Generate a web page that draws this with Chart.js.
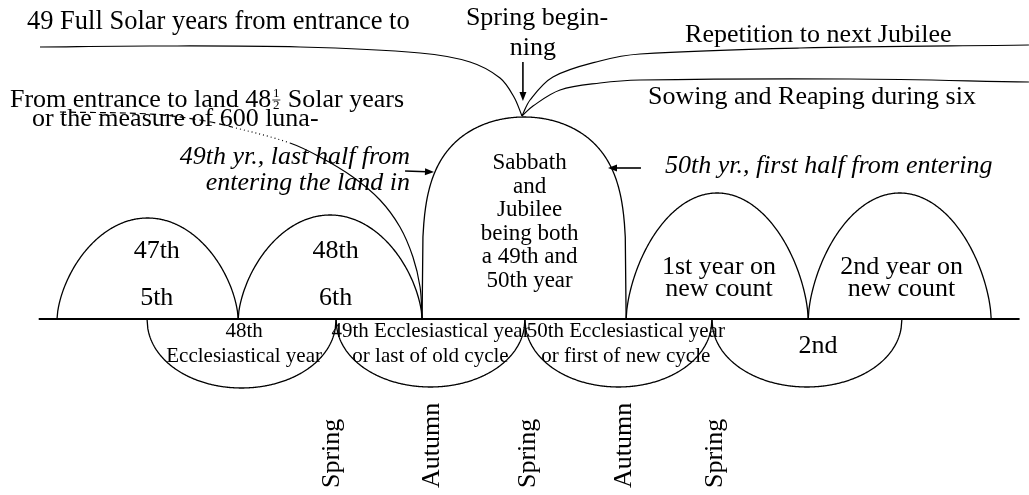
<!DOCTYPE html>
<html>
<head>
<meta charset="utf-8">
<title>Sabbath and Jubilee years</title>
<script src="https://cdn.jsdelivr.net/npm/chart.js@4.4.1/dist/chart.umd.min.js"></script>
<style>
  html, body { margin: 0; padding: 0; background: #fff; }
  #wrap { width: 1029px; height: 495px; }
</style>
</head>
<body>
<div id="wrap"><canvas id="jubileeChart" width="1029" height="495"></canvas></div>
<script>
//********************** Diagram data ******************************************
// x = years counted from the start of the 47th solar year, y = arch height

// solar years (arches above the line)
var solarBounds = [0, 0.99, 1.995, 3.11, 4.105, 5.105];
var solarHeight = [1.01, 1.04, 2.02, 1.26, 1.26];
var solarLabels = [
  ['47th', '5th'],
  ['48th', '6th'],
  ['Sabbath', 'and', 'Jubilee', 'being both', 'a 49th and', '50th year'],
  ['1st year on', 'new count'],
  ['2nd year on', 'new count']
];

// ecclesiastical years (arches under the line)
var eccBounds = [0.492, 1.525, 2.557, 3.579, 4.617];
var eccDepth = [0.69, 0.68, 0.68, 0.68];
var eccLabels = [
  ['48th', 'Ecclesiastical year'],
  ['49th Ecclesiastical year', 'or last of old cycle'],
  ['50th Ecclesiastical year', 'or first of new cycle'],
  ['2nd']
];

// seasons written under the line
var seasons = ['Spring', 'Autumn', 'Spring', 'Autumn', 'Spring'];
var seasonAt = [1.503, 2.052, 2.577, 3.098, 3.598];

// the time line itself
var timeline = [-0.1, 5.26];

// leader lines at the top
var fullSolarX = [-0.093, 0.508, 1.328, 1.984, 2.257, 2.421, 2.497, 2.541];
var fullSolarY = [2.72, 2.73, 2.72, 2.66, 2.57, 2.41, 2.22, 2.03];
var entranceX = [0.016, 0.508, 0.781, 0.956, 1.273, 1.437, 1.617, 1.765, 1.874, 1.945, 1.984, 1.995];
var entranceY = [2.07, 2.05, 1.99, 1.92, 1.76, 1.62, 1.42, 1.19, 0.92, 0.62, 0.32, 0.01];
var repetitionX = [2.541, 2.585, 2.710, 2.967, 3.186, 4.060, 5.311];
var repetitionY = [2.03, 2.19, 2.42, 2.58, 2.65, 2.71, 2.74];
var sowingX = [2.541, 2.601, 2.749, 2.967, 3.186, 4.333, 5.311];
var sowingY = [2.03, 2.13, 2.29, 2.36, 2.39, 2.40, 2.37];

//********************** Layout / style ****************************************
var FONT = '"Liberation Serif", "Times New Roman", serif';

var solarText = [
  { dx: 0.05, v: [0.675, 0.21], size: 26 },
  { dx: 0.03, v: [0.675, 0.21], size: 26 },
  { dx: 0.03, v: [1.56, 1.32, 1.09, 0.85, 0.62, 0.38], size: 23 },
  { dx: 0.01, v: [0.515, 0.30], size: 26 },
  { dx: 0.01, v: [0.515, 0.30], size: 26 }
];
var eccText = [
  { dx: 0.014, v: [-0.12, -0.37], size: 21 },
  { dx: 0, v: [-0.12, -0.37], size: 21 },
  { dx: 0.04, v: [-0.12, -0.37], size: 21 },
  { dx: 0.06, v: [-0.27], size: 26 }
];

function toPoints(xs, ys) {
  return xs.map(function (x, i) { return { x: x, y: ys[i] }; });
}

function leader(xs, ys, extra) {
  var ds = {
    data: toPoints(xs, ys),
    showLine: true,
    borderColor: '#000',
    borderWidth: 1.2,
    pointRadius: 0,
    tension: 0.35,
    fill: false
  };
  for (var k in extra) ds[k] = extra[k];
  return ds;
}

function px(chart, t) { return chart.scales.x.getPixelForValue(t); }
function py(chart, v) { return chart.scales.y.getPixelForValue(v); }

// one arch between a and b on the time line, height h (negative = below)
function drawArch(chart, a, b, h, bend) {
  var ctx = chart.ctx, mid = (a + b) / 2, half = (b - a) / 2;
  ctx.beginPath();
  for (var i = 0; i <= 240; i++) {
    var u = -1 + i / 120;
    var v = h * Math.pow(Math.max(0, 1 - u * u), bend);
    var X = px(chart, mid + u * half), Y = py(chart, v);
    if (i === 0) ctx.moveTo(X, Y); else ctx.lineTo(X, Y);
  }
  ctx.stroke();
}

function say(chart, str, t, v, size, align, italic) {
  var ctx = chart.ctx;
  ctx.font = (italic ? 'italic ' : '') + size + 'px ' + FONT;
  ctx.textAlign = align || 'center';
  ctx.textBaseline = 'middle';
  ctx.fillText(str, px(chart, t), py(chart, v));
}

function arrow(chart, t0, v0, t1, v1) {
  var ctx = chart.ctx;
  var x0 = px(chart, t0), y0 = py(chart, v0), x1 = px(chart, t1), y1 = py(chart, v1);
  var ang = Math.atan2(y1 - y0, x1 - x0), len = 9, w = 3.5;
  ctx.lineWidth = 1.6;
  ctx.beginPath();
  ctx.moveTo(x0, y0);
  ctx.lineTo(x1 - Math.cos(ang) * len * 0.8, y1 - Math.sin(ang) * len * 0.8);
  ctx.stroke();
  ctx.beginPath();
  ctx.moveTo(x1, y1);
  ctx.lineTo(x1 - Math.cos(ang) * len - Math.sin(ang) * w, y1 - Math.sin(ang) * len + Math.cos(ang) * w);
  ctx.lineTo(x1 - Math.cos(ang) * len + Math.sin(ang) * w, y1 - Math.sin(ang) * len - Math.cos(ang) * w);
  ctx.closePath();
  ctx.fill();
}

var paper = {
  id: 'paper',
  beforeDraw: function (chart) {
    var ctx = chart.ctx;
    ctx.save();
    ctx.fillStyle = '#fff';
    ctx.fillRect(0, 0, chart.width, chart.height);
    ctx.restore();
  }
};

var sketch = {
  id: 'sketch',
  afterDatasetsDraw: function (chart) {
    var ctx = chart.ctx, i, j;
    ctx.save();
    ctx.strokeStyle = '#000';
    ctx.fillStyle = '#000';
    ctx.lineWidth = 1.3;

    // solar arches + their text
    for (i = 0; i < solarHeight.length; i++) {
      var a = solarBounds[i], b = solarBounds[i + 1];
      drawArch(chart, a, b, solarHeight[i], i === 2 ? 0.22 : 0.62);
      for (j = 0; j < solarLabels[i].length; j++) {
        say(chart, solarLabels[i][j], (a + b) / 2 + solarText[i].dx, solarText[i].v[j], solarText[i].size);
      }
    }

    // ecclesiastical arches + text
    ctx.lineWidth = 1.3;
    for (i = 0; i < eccDepth.length; i++) {
      var c = eccBounds[i], d = eccBounds[i + 1];
      drawArch(chart, c, d, -eccDepth[i], 0.48);
      for (j = 0; j < eccLabels[i].length; j++) {
        say(chart, eccLabels[i][j], (c + d) / 2 + eccText[i].dx, eccText[i].v[j], eccText[i].size);
      }
    }

    // seasons, written upwards
    ctx.font = '26px ' + FONT;
    ctx.textAlign = 'left';
    ctx.textBaseline = 'middle';
    for (i = 0; i < seasons.length; i++) {
      ctx.save();
      ctx.translate(px(chart, seasonAt[i]), py(chart, -1.69));
      ctx.rotate(-Math.PI / 2);
      ctx.fillText(seasons[i], 0, 0);
      ctx.restore();
    }

    // notes at the top
    say(chart, '49 Full Solar years from entrance to', -0.164, 2.97, 26.5, 'left');
    say(chart, 'Spring begin-', 2.623, 3.005, 26);
    say(chart, 'ning', 2.601, 2.71, 26);
    say(chart, 'Repetition to next Jubilee', 3.432, 2.84, 26, 'left');
    say(chart, 'Sowing and Reaping during six', 3.230, 2.215, 26, 'left');
    say(chart, 'or the measure of 600 luna-', -0.137, 2.00, 26, 'left');

    // "From entrance to land 48 1/2 Solar years" with a stacked fraction
    ctx.font = '26px ' + FONT;
    ctx.textAlign = 'left';
    ctx.textBaseline = 'middle';
    var fx = px(chart, -0.257), fy = py(chart, 2.19);
    var head = 'From entrance to land 48';
    ctx.fillText(head, fx, fy);
    fx += ctx.measureText(head).width + 1;
    ctx.font = '13px ' + FONT;
    ctx.textAlign = 'center';
    ctx.fillText('1', fx + 4, fy - 6);
    ctx.fillText('2', fx + 4, fy + 6);
    ctx.lineWidth = 0.8;
    ctx.beginPath();
    ctx.moveTo(fx, fy);
    ctx.lineTo(fx + 8, fy);
    ctx.stroke();
    ctx.font = '26px ' + FONT;
    ctx.textAlign = 'left';
    ctx.fillText(' Solar years', fx + 9, fy);

    // italic notes beside the big arch
    say(chart, '49th yr., last half from', 1.929, 1.62, 26, 'right', true);
    say(chart, 'entering the land in', 1.929, 1.355, 26, 'right', true);
    say(chart, '50th yr., first half from entering', 3.322, 1.53, 26, 'left', true);

    // arrows
    arrow(chart, 1.902, 1.48, 2.060, 1.47);
    arrow(chart, 3.191, 1.51, 3.011, 1.51);
    arrow(chart, 2.546, 2.57, 2.546, 2.18);

    ctx.restore();
  }
};

var canvas = document.getElementById('jubileeChart');

var jubileeChart = new Chart(canvas, {
  type: 'scatter',
  data: {
    datasets: [
      leader(timeline, [0, 0], { borderWidth: 2.2, tension: 0 }),
      leader(fullSolarX, fullSolarY),
      leader(entranceX, entranceY, {
        segment: {
          borderDash: function (ctx) {
            if (ctx.p0DataIndex < 3) return [6, 4];
            if (ctx.p0DataIndex === 3) return [1, 3];
            return undefined;
          }
        }
      }),
      leader(repetitionX, repetitionY),
      leader(sowingX, sowingY)
    ]
  },
  options: {
    responsive: false,
    animation: false,
    events: [],
    layout: { padding: 0 },
    plugins: { legend: { display: false }, tooltip: { enabled: false } },
    scales: {
      x: { type: 'linear', display: false, min: -0.3115, max: 5.3115 },
      y: { type: 'linear', display: false, min: -1.76, max: 3.19 }
    }
  },
  plugins: [paper, sketch]
});
</script>
</body>
</html>
